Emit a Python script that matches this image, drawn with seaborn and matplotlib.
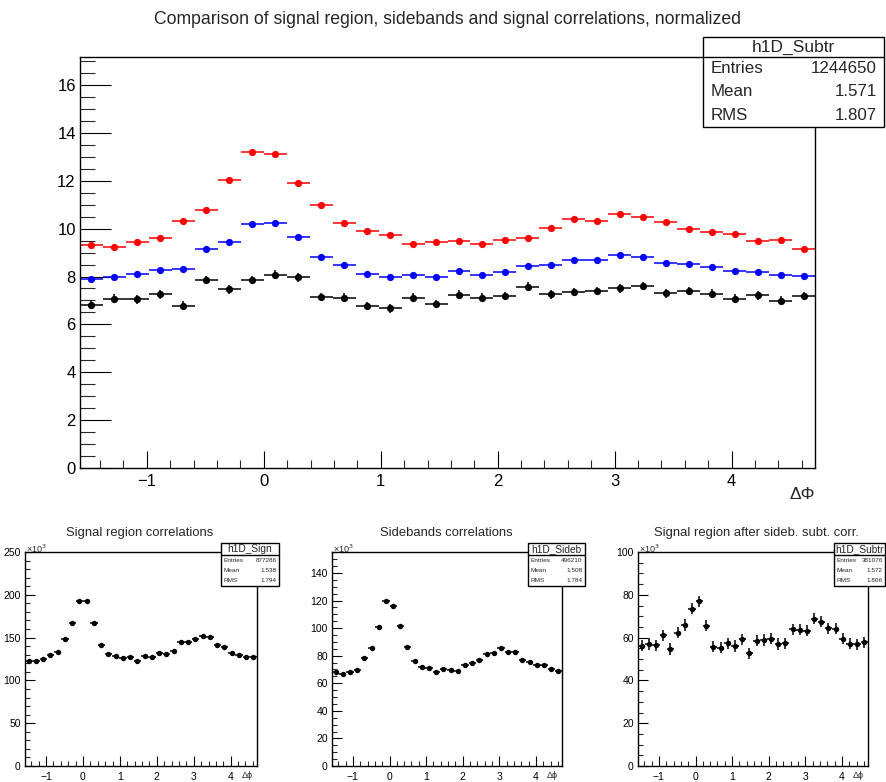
import numpy as np
import pandas as pd
import matplotlib
matplotlib.use("Agg")
import matplotlib.pyplot as plt
from matplotlib.ticker import MultipleLocator
from matplotlib.patches import Rectangle
import seaborn as sns

# ---- data ----
N_BINS = 32
X_MIN, X_MAX = -np.pi / 2, 3 * np.pi / 2

# top pad, normalized
signal_norm = [9.33, 9.22, 9.45, 9.61, 10.33, 10.76, 12.03, 13.21, 13.10, 11.90, 10.97, 10.24,
               9.89, 9.74, 9.35, 9.45, 9.49, 9.35, 9.51, 9.60, 10.04, 10.40, 10.31, 10.63,
               10.47, 10.28, 9.99, 9.86, 9.76, 9.47, 9.54, 9.15]
sideb_norm = [7.90, 8.00, 8.10, 8.26, 8.32, 9.13, 9.45, 10.18, 10.24, 9.67, 8.81, 8.46,
              8.10, 7.97, 8.07, 7.97, 8.22, 8.06, 8.19, 8.44, 8.47, 8.67, 8.68, 8.88,
              8.83, 8.58, 8.51, 8.39, 8.22, 8.19, 8.07, 8.03]
subtr_norm = [6.82, 7.08, 7.04, 7.25, 6.78, 7.85, 7.46, 7.85, 8.08, 7.97, 7.15, 7.11,
              6.76, 6.67, 7.11, 6.85, 7.24, 7.11, 7.18, 7.57, 7.26, 7.36, 7.40, 7.50,
              7.60, 7.30, 7.40, 7.28, 7.08, 7.21, 6.99, 7.18]

# bottom pads, counts in units of 10^3
sign_counts = [123.2, 122.8, 125.2, 129.9, 132.7, 148.4, 166.5, 192.9, 192.9, 167.3, 141.3, 131.1,
               128.3, 126.4, 127.2, 122.4, 128.0, 127.2, 131.9, 131.1, 133.9, 145.3, 145.3, 148.8,
               151.6, 150.4, 140.9, 138.6, 132.3, 129.9, 126.8, 126.8]
sideb_counts = [68.4, 66.7, 68.4, 69.3, 78.1, 85.8, 100.8, 119.5, 116.4, 101.6, 86.3, 76.4,
                71.8, 71.3, 68.4, 70.1, 69.6, 68.6, 73.0, 74.7, 77.1, 81.5, 82.2, 85.8,
                82.4, 82.9, 77.1, 75.2, 73.0, 73.0, 70.5, 68.8]
subtr_counts = [56.3, 57.0, 56.4, 61.1, 54.7, 62.2, 65.9, 73.4, 77.0, 65.6, 55.8, 55.3,
                57.3, 56.1, 59.2, 52.7, 58.6, 58.9, 59.4, 57.0, 57.3, 63.9, 63.6, 63.3,
                68.9, 67.5, 64.4, 64.2, 59.5, 57.2, 56.9, 57.8]

# approximate error sizes
err_top_sig = 0.08
err_top_sideb = 0.07
err_top_subtr = 0.18
err_sign = 1.0
err_sideb = 0.8
err_subtr = 2.6

stats_main = ("h1D_Subtr", "1244650", "1.571", "1.807")
stats_sign = ("h1D_Sign", "877286", "1.538", "1.794")
stats_sideb = ("h1D_Sideb", "496210", "1.508", "1.784")
stats_subtr = ("h1D_Subtr", "381076", "1.572", "1.806")

edges = np.linspace(X_MIN, X_MAX, N_BINS + 1)
centers = 0.5 * (edges[:-1] + edges[1:])
half_w = 0.5 * (edges[1] - edges[0])

sns.set_theme(style="white")
plt.rcParams['font.family'] = ['Liberation Sans', 'DejaVu Sans']
plt.rcParams['axes.unicode_minus'] = True

W, H = 886, 782
fig = plt.figure(figsize=(W / 100, H / 100), dpi=100)
fig.patch.set_facecolor("white")


def fx(px):
    return px / W


def fy(py):
    return 1 - py / H


def axes_px(left, top, right, bottom):
    return fig.add_axes([fx(left), fy(bottom), fx(right) - fx(left), fy(top) - fy(bottom)])


def style_axes(ax, ymax, ymaj, ymin, fs, xlen, ylen):
    ax.set_xlim(X_MIN, X_MAX)
    ax.set_ylim(0, ymax)
    ax.set_facecolor("white")
    for s in ax.spines.values():
        s.set_color("black")
        s.set_linewidth(1.0)
        s.set_visible(True)
    ax.xaxis.set_major_locator(MultipleLocator(1))
    ax.xaxis.set_minor_locator(MultipleLocator(0.2))
    ax.yaxis.set_major_locator(MultipleLocator(ymaj))
    ax.yaxis.set_minor_locator(MultipleLocator(ymin))
    ax.tick_params(axis='x', which='major', direction='in', length=xlen, width=0.8,
                   labelsize=fs, colors='black', pad=4, bottom=True, top=False)
    ax.tick_params(axis='x', which='minor', direction='in', length=xlen / 2, width=0.8,
                   bottom=True, top=False)
    ax.tick_params(axis='y', which='major', direction='in', length=ylen, width=0.8,
                   labelsize=fs, colors='black', pad=3, left=True, right=False)
    ax.tick_params(axis='y', which='minor', direction='in', length=ylen / 2, width=0.8,
                   left=True, right=False)
    ax.grid(False)
    ax.set_xlabel("")
    ax.set_ylabel("")


def draw_hist(ax, yvals, yerr, color, ms):
    df = pd.DataFrame({"x": centers, "y": yvals})
    ax.errorbar(df["x"], df["y"], xerr=half_w, yerr=yerr, fmt='none',
                ecolor=color, elinewidth=1.1, capsize=0, zorder=2)
    sns.scatterplot(data=df, x="x", y="y", ax=ax, color=color, s=ms ** 2,
                    edgecolor=color, linewidth=0, zorder=3, legend=False)


def stats_box(left, top, right, bottom, header_h, vals, fs_head, fs_row):
    name, entries, mean, rms = vals
    rect = Rectangle((fx(left), fy(bottom)), fx(right) - fx(left), fy(top) - fy(bottom),
                     transform=fig.transFigure, facecolor="white", edgecolor="black",
                     linewidth=1.0, zorder=10)
    fig.patches.append(rect)
    fig.add_artist(plt.Line2D([fx(left), fx(right)], [fy(top + header_h)] * 2,
                              transform=fig.transFigure, color="black", lw=1.0, zorder=11))
    fig.text(fx((left + right) / 2), fy(top + header_h / 2), name, ha="center", va="center",
             fontsize=fs_head, zorder=12)
    row_h = (bottom - top - header_h) / 3
    pad = (right - left) * 0.04
    for i, (lab, v) in enumerate([("Entries", entries), ("Mean", mean), ("RMS", rms)]):
        yc = top + header_h + row_h * (i + 0.5)
        fig.text(fx(left + pad), fy(yc), lab, ha="left", va="center", fontsize=fs_row, zorder=12)
        fig.text(fx(right - pad), fy(yc), v, ha="right", va="center", fontsize=fs_row, zorder=12)


# ---- top pad ----
ax = axes_px(80, 57, 815, 468)
draw_hist(ax, signal_norm, err_top_sig, "#ff0000", 5.2)
draw_hist(ax, sideb_norm, err_top_sideb, "#0000ff", 5.2)
draw_hist(ax, subtr_norm, err_top_subtr, "black", 5.2)
style_axes(ax, 17.17, 2, 0.5, 12, 12, 22)
fig.text(fx(447), fy(20), "Comparison of signal region, sidebands and signal correlations, normalized",
         ha="center", va="center", fontsize=12.7)
fig.text(fx(815), fy(495), "ΔΦ", ha="right", va="center", fontsize=12.5)
stats_box(703, 37, 884, 127, 20, stats_main, 12.5, 12.2)

# ---- bottom pads ----
bottom_specs = [
    (25, 257, sign_counts, err_sign, 250, 50, 10, "Signal region correlations", 140, stats_sign, (221, 279)),
    (332, 562, sideb_counts, err_sideb, 155.2, 20, 5, "Sidebands correlations", 446, stats_sideb, (528, 585)),
    (638, 868, subtr_counts, err_subtr, 100, 20, 5, "Signal region after sideb. subt. corr.", 756, stats_subtr, (834, 885)),
]
for left, right, vals, err, ymax, ymaj, ymin, title, tx, st, (bl, br) in bottom_specs:
    a = axes_px(left, 552, right, 766)
    draw_hist(a, vals, err, "black", 3.9)
    style_axes(a, ymax, ymaj, ymin, 7.5, 7, 7)
    fig.text(fx(tx), fy(533), title, ha="center", va="center", fontsize=9.4)
    fig.text(fx(left + 1), fy(549), "×10$^{3}$", ha="left", va="center", fontsize=6.5)
    fig.text(fx(right - 4), fy(776), "Δϕ", ha="right", va="center", fontsize=6.5)
    stats_box(bl, 543, br, 586, 12, st, 7.3, 4.6)

fig.savefig("out.png", dpi=100, facecolor="white")
